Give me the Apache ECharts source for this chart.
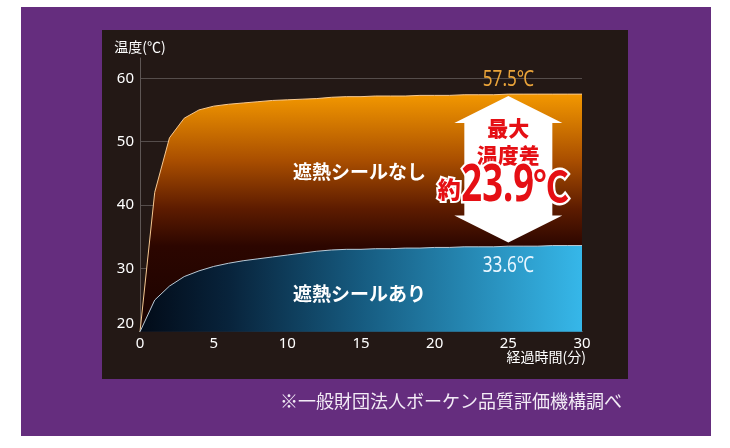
<!DOCTYPE html>
<html>
<head>
<meta charset="utf-8">
<script src="https://cdn.jsdelivr.net/npm/echarts@6/dist/echarts.min.js"></script>
<style>
  html, body { margin: 0; padding: 0; background: #ffffff; }
  #wrap { position: relative; width: 730px; height: 448px; overflow: hidden; }
  #purple { position: absolute; left: 21px; top: 7px; width: 690px; height: 429px; background: #652d7e; }
  #panel { position: absolute; left: 102px; top: 30px; width: 526px; height: 349px; background: #231815; }
  #chart { position: absolute; left: 0; top: 0; width: 730px; height: 448px; }
</style>
</head>
<body>
<div id="wrap">
  <div id="purple"></div>
  <div id="panel"></div>
  <div id="chart"></div>
</div>
<script>
// ---- data ----
const minutes     = [0, 1, 2, 3, 4, 5, 6, 7, 8, 9, 10, 11, 12, 13, 14, 15, 16, 17, 18, 19, 20, 21, 22, 23, 24, 25, 26, 27, 28, 29, 30];
const withoutSeal = [20, 42.0, 50.6, 53.7, 55.0, 55.6, 55.9, 56.1, 56.3, 56.5, 56.6, 56.7, 56.8, 57.0, 57.1, 57.1, 57.2, 57.2, 57.2, 57.3, 57.3, 57.3, 57.4, 57.4, 57.4, 57.5, 57.5, 57.5, 57.5, 57.5, 57.5];
const withSeal    = [20, 25.0, 27.2, 28.7, 29.6, 30.3, 30.8, 31.2, 31.5, 31.8, 32.1, 32.4, 32.7, 32.9, 33.0, 33.0, 33.1, 33.1, 33.2, 33.2, 33.3, 33.3, 33.4, 33.4, 33.4, 33.5, 33.5, 33.5, 33.6, 33.6, 33.6];
const seriesNames = ['遮熱シールなし', '遮熱シールあり'];
const xTicks = [0, 5, 10, 15, 20, 25, 30];
const yTicks = [20, 30, 40, 50, 60];
const diffMinute = 25;
const peakWithout = 57.5;
const peakWith = 33.6;
const maxDiff = 23.9;
const nameLabelPos = [[14.9, 45.2], [14.9, 25.95]];

const yTitle = '温度(℃)';
const xTitle = '経過時間(分)';
const footer = '※一般財団法人ボーケン品質評価機構調べ';

const JP = '"Noto Sans CJK JP", "Noto Sans", sans-serif';
const NUM = '"Noto Sans", "Open Sans", sans-serif';

const chart = echarts.init(document.getElementById('chart'), null, { renderer: 'canvas' });

const pairs = (ys) => minutes.map((m, i) => [m, ys[i]]);

const option = {
  backgroundColor: 'transparent',
  animation: false,
  grid: { left: 140, right: 148, top: 58, bottom: 116.3, containLabel: false },
  xAxis: {
    type: 'value', min: xTicks[0], max: xTicks[xTicks.length - 1], interval: 5,
    axisLine: { show: true, lineStyle: { color: '#8d9aa6', width: 1 } },
    axisTick: { show: false },
    splitLine: { show: false },
    axisLabel: { color: '#ffffff', fontSize: 15, fontFamily: NUM, margin: 5 }
  },
  yAxis: {
    type: 'value', min: yTicks[0], max: 63.2, interval: 10,
    name: yTitle, nameLocation: 'end', nameGap: 4,
    nameTextStyle: { color: '#ffffff', fontSize: 14, fontFamily: JP, align: 'center' },
    axisLine: { show: true, lineStyle: { color: '#5e5654', width: 1 } },
    axisTick: { show: false },
    splitLine: { show: true, showMinLine: false, showMaxLine: false, lineStyle: { color: '#554d4b', width: 1 } },
    axisLabel: {
      color: '#ffffff', fontSize: 15, fontFamily: NUM, margin: 6, showMaxLabel: false,
      formatter: (v) => (v === yTicks[0] ? '{low|' + v + '}' : (yTicks.indexOf(v) >= 0 ? String(v) : '')),
      rich: { low: { color: '#ffffff', fontSize: 15, fontFamily: NUM, padding: [0, 0, 16, 0] } }
    }
  },
  graphic: [
    { type: 'text', right: 730 - 586, top: 350, style: { text: xTitle, fill: '#ffffff', font: '14px ' + JP } },
    { type: 'text', left: 280, top: 392, style: { text: footer, fill: '#f3ecf6', font: '18px ' + JP } }
  ],
  series: [
    {
      name: seriesNames[0], type: 'line', data: pairs(withoutSeal), showSymbol: false, smooth: false, z: 2,
      lineStyle: { color: '#f7c991', width: 1 },
      areaStyle: {
        opacity: 1,
        color: new echarts.graphic.LinearGradient(0, 0, 0, 1, [
          { offset: 0, color: '#f39800' },
          { offset: 0.28, color: '#a94e00' },
          { offset: 0.48, color: '#5e1c00' },
          { offset: 0.64, color: '#2c0600' },
          { offset: 1, color: '#1a0300' }
        ])
      }
    },
    {
      name: seriesNames[1], type: 'line', data: pairs(withSeal), showSymbol: false, smooth: false, z: 3,
      lineStyle: { color: '#b9cad6', width: 1 },
      areaStyle: {
        opacity: 1,
        color: new echarts.graphic.LinearGradient(0, 0, 1, 0, [
          { offset: 0, color: '#020b18' },
          { offset: 0.2, color: '#08233b' },
          { offset: 0.5, color: '#165b80' },
          { offset: 1, color: '#36b7e9' }
        ])
      }
    },
    {
      type: 'custom', z: 5, silent: true,
      data: [[diffMinute, peakWithout, peakWith]],
      renderItem: function (params, api) {
        const top = api.coord([api.value(0), api.value(1)]);
        const bot = api.coord([api.value(0), api.value(2)]);
        const cx = top[0];
        const t = top[1] + 2, b = bot[1] - 3;
        const hh = 27, hw = 54, sw = 44;
        const pts = [
          [cx, t], [cx + hw, t + hh], [cx + sw, t + hh], [cx + sw, b - hh], [cx + hw, b - hh],
          [cx, b], [cx - hw, b - hh], [cx - sw, b - hh], [cx - sw, t + hh], [cx - hw, t + hh]
        ];
        const red = '#e50f14';
        const ty = top[1] + 92;
        return {
          type: 'group',
          children: [
            { type: 'polygon', shape: { points: pts }, style: { fill: '#ffffff' } },
            { type: 'text', style: { text: '最大', x: cx, y: top[1] + 34, align: 'center', verticalAlign: 'middle',
              fill: red, font: '900 21px ' + JP } },
            { type: 'text', style: { text: '温度差', x: cx, y: top[1] + 61, align: 'center', verticalAlign: 'middle',
              fill: red, font: '900 21px ' + JP } },
            { type: 'text', style: { text: '約', x: cx - 59, y: ty + 3, align: 'center', verticalAlign: 'middle',
              fill: red, font: '900 23px ' + JP, stroke: '#ffffff', lineWidth: 4 } },
            { type: 'text', x: cx - 47, y: ty, scaleX: 0.7, scaleY: 1,
              style: { text: maxDiff.toFixed(1), x: 0, y: 0, align: 'left', verticalAlign: 'middle',
                fill: red, font: 'bold 52px ' + NUM, stroke: '#ffffff', lineWidth: 5 } },
            { type: 'text', x: cx + 25, y: ty, scaleX: 0.85, scaleY: 1,
              style: { text: '℃', x: 0, y: 0, align: 'left', verticalAlign: 'middle',
                fill: red, font: 'bold 42px ' + JP, stroke: '#ffffff', lineWidth: 5 } },
            { type: 'text', x: cx, y: top[1] - 14, scaleX: 0.78, scaleY: 1,
              style: { text: peakWithout.toFixed(1) + '℃', x: 0, y: 0, align: 'center', verticalAlign: 'middle',
                fill: '#eaa43a', font: '22px ' + NUM } },
            { type: 'text', x: cx, y: bot[1] + 20, scaleX: 0.78, scaleY: 1,
              style: { text: peakWith.toFixed(1) + '℃', x: 0, y: 0, align: 'center', verticalAlign: 'middle',
                fill: '#e8f6ff', font: '22px ' + NUM } }
          ]
        };
      }
    },
    {
      type: 'custom', z: 6, silent: true,
      data: nameLabelPos,
      renderItem: function (params, api) {
        const p = api.coord([api.value(0), api.value(1)]);
        return { type: 'text', style: { text: seriesNames[params.dataIndex], x: p[0], y: p[1], align: 'center', verticalAlign: 'middle',
          fill: '#ffffff', font: 'bold 19px ' + JP } };
      }
    }
  ]
};
chart.setOption(option);
</script>
</body>
</html>
